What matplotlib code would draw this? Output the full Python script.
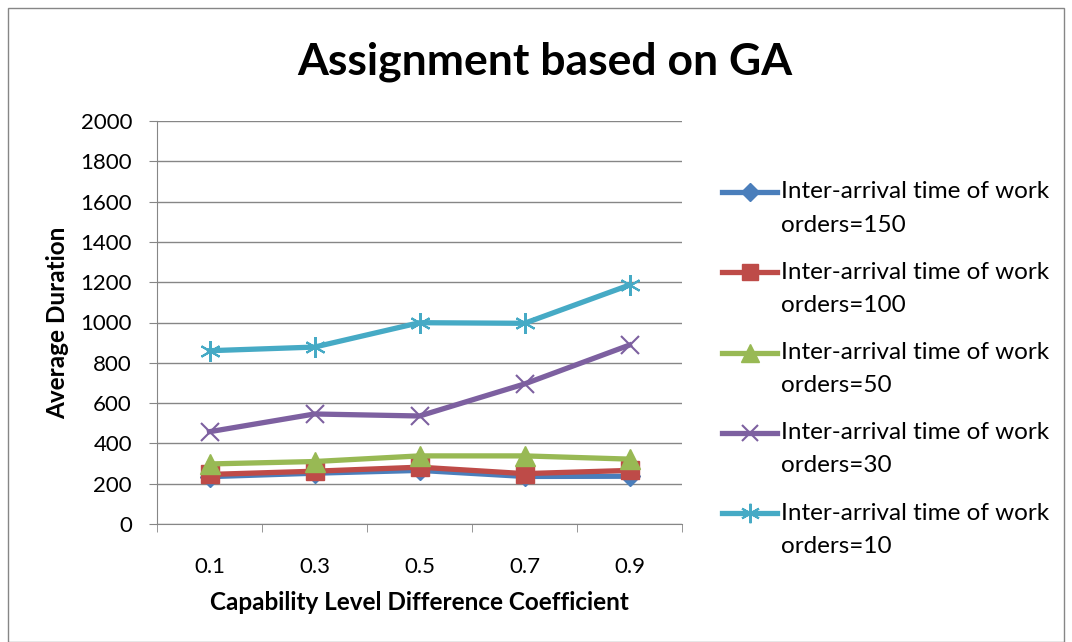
import matplotlib
matplotlib.use("Agg")
import matplotlib.pyplot as plt
from matplotlib.patches import Rectangle
from matplotlib.lines import Line2D
import numpy as np

plt.rcParams['font.family'] = ['Lato', 'DejaVu Sans']

categories = ["0.1", "0.3", "0.5", "0.7", "0.9"]
series_labels = [
    ("Inter-arrival time of work", "orders=150"),
    ("Inter-arrival time of work", "orders=100"),
    ("Inter-arrival time of work", "orders=50"),
    ("Inter-arrival time of work", "orders=30"),
    ("Inter-arrival time of work", "orders=10"),
]
v150 = [235, 252, 266, 236, 237]
v100 = [246, 262, 282, 250, 266]
v50 = [298, 310, 338, 338, 322]
v30 = [458, 546, 536, 695, 888]
v10 = [860, 878, 999, 996, 1186]

COLORS = ["#4a7ebb", "#be4b48", "#98b954", "#7d60a0", "#46aac5"]
MARKERS = ["D", "s", "^", "x", (6, 2, 0)]
MSIZES = [10, 13, 14, 13, 15]
W, H = 1072, 642


def mstyle(c, m, ms):
    if m == "x" or isinstance(m, tuple):
        return dict(marker=m, ms=ms, mew=1.5, mec=c)
    return dict(marker=m, ms=ms, mec=c, mfc=c)


fig = plt.figure(figsize=(W / 100, H / 100), dpi=100)
ax = fig.add_axes([157 / W, 1 - 524 / H, (682 - 157) / W, (524 - 121) / H])

x = np.arange(len(categories))
for vals, c, m, ms in zip([v150, v100, v50, v30, v10], COLORS, MARKERS, MSIZES):
    ax.plot(x, vals, color=c, lw=3.8, zorder=3, **mstyle(c, m, ms))

ax.set_xlim(-0.5, len(categories) - 0.5)
ax.set_ylim(0, 2000)
ax.set_yticks(np.arange(0, 2001, 200))
ax.set_xticks(x)
ax.set_xticklabels(categories)
ax.set_xticks(np.arange(-0.5, len(categories), 1.0), minor=True)
ax.tick_params(axis="x", which="major", length=0, pad=24, labelsize=16)
ax.tick_params(axis="x", which="minor", length=6, color="#868686", direction="out")
ax.tick_params(axis="y", length=6, color="#868686", labelsize=16, pad=12)

ax.yaxis.grid(True, color="#868686", lw=1.0)
ax.set_axisbelow(True)
for s in ["top", "right"]:
    ax.spines[s].set_visible(False)
for s in ["left", "bottom"]:
    ax.spines[s].set_color("#868686")

ax.set_xlabel("Capability Level Difference Coefficient", fontsize=17.5,
              fontweight="bold", labelpad=10)
ax.set_ylabel("Average Duration", fontsize=17.5, fontweight="bold", labelpad=8)

fig.text(545 / W, 1 - 62 / H, "Assignment based on GA", ha="center",
         va="center", fontsize=32, fontweight="bold")

# legend drawn by hand so the key sits on the first text line, like Excel
for i, ((l1, l2), c, m, ms) in enumerate(zip(series_labels, COLORS, MARKERS, MSIZES)):
    yy = 1 - (192 + 80.3 * i) / H
    fig.add_artist(Line2D([722 / W, 777 / W], [yy, yy], color=c, lw=3.8,
                          transform=fig.transFigure))
    fig.add_artist(Line2D([749.5 / W], [yy], color=c, lw=0,
                          transform=fig.transFigure, **mstyle(c, m, ms - 1)))
    fig.text(781 / W, yy, l1, ha="left", va="center", fontsize=17.5)
    fig.text(781 / W, yy - 33 / H, l2, ha="left", va="center", fontsize=17.5)

fig.patches.append(Rectangle((8 / W, 0), (1064 - 8) / W, 1 - 8 / H,
                             transform=fig.transFigure, fill=False,
                             edgecolor="#868686", lw=1.0))

fig.savefig("out.png", dpi=100, facecolor="white")
